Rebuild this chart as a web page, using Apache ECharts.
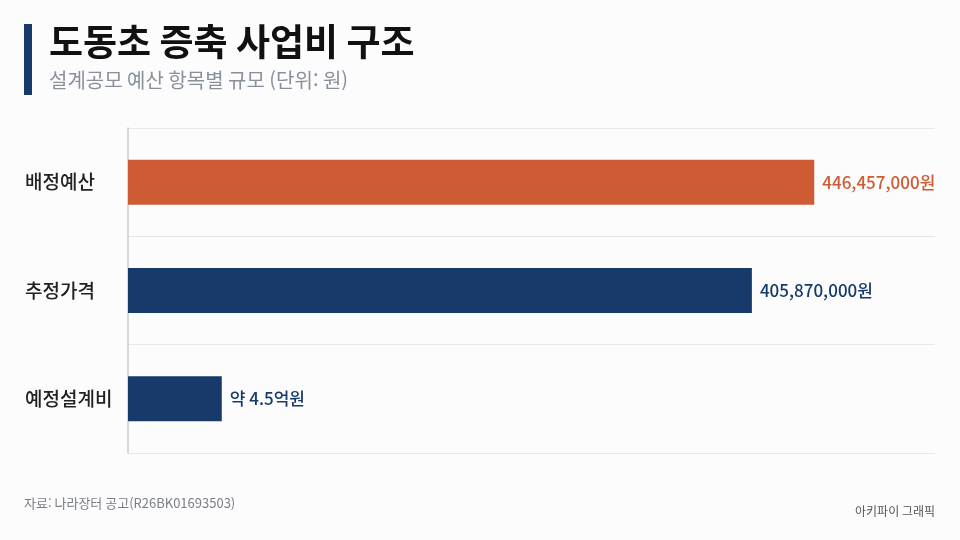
<!doctype html>
<html lang="ko">
<head>
<meta charset="UTF-8">
<title>도동초 증축 사업비 구조</title>
<style>
    *{margin:0;padding:0;}
    html,body{height:100%;background:#fcfcfd;}
    #main{width:960px;height:540px;}
</style>
</head>
<body>
<div id="main"></div>
<script src="https://cdn.jsdelivr.net/npm/echarts@6/dist/echarts.min.js"></script>
<script>
    // data
    var categories = ['배정예산', '추정가격', '예정설계비'];
    var values = [446457000, 405870000, 61000000];
    var valueLabels = ['446,457,000원', '405,870,000원', '약 4.5억원'];
    var barColors = ['#cf5b34', '#173a6b', '#173a6b'];
    var labelColors = ['#cf5b34', '#173a6b', '#173a6b'];

    var font = '"Noto Sans CJK KR", "Noto Sans", sans-serif';

    var myChart = echarts.init(document.getElementById('main'));

    myChart.setOption({
        backgroundColor: '#fcfcfd',
        textStyle: {fontFamily: font},
        title: [{
            text: '도동초 증축 사업비 구조',
            left: 44, top: 18,
            textStyle: {fontSize: 37, fontWeight: 'bold', color: '#111', fontFamily: font}
        }, {
            text: '설계공모 예산 항목별 규모 (단위: 원)',
            left: 44, top: 65,
            textStyle: {fontSize: 20, fontWeight: 'normal', color: '#8a909a', fontFamily: font}
        }, {
            text: '자료: 나라장터 공고(R26BK01693503)',
            left: 19, top: 492,
            textStyle: {fontSize: 13, fontWeight: 'normal', color: '#7a7e86', fontFamily: font}
        }, {
            text: '아키파이 그래픽',
            right: 20, top: 500,
            textStyle: {fontSize: 12, fontWeight: 'normal', color: '#555', fontFamily: font}
        }],
        graphic: [{
            type: 'rect',
            shape: {x: 24, y: 24, width: 8, height: 71},
            style: {fill: '#173a6b'}
        }],
        grid: {left: 128, right: 25, top: 128, bottom: 87},
        xAxis: {
            type: 'value',
            min: 0,
            max: 525000000,
            show: false
        },
        yAxis: {
            type: 'category',
            data: categories,
            inverse: true,
            axisLine: {show: true, lineStyle: {color: '#c9ccd2', width: 1.5}},
            axisTick: {show: false},
            splitLine: {show: true, lineStyle: {color: '#e6e8ec', width: 1}},
            axisLabel: {
                align: 'left',
                margin: 103,
                fontSize: 19,
                fontWeight: 500,
                color: '#222',
                fontFamily: font
            }
        },
        series: [{
            type: 'bar',
            barWidth: 45,
            silent: true,
            data: values.map(function (v, i) {
                return {
                    value: v,
                    itemStyle: {color: barColors[i]},
                    label: {color: labelColors[i]}
                };
            }),
            label: {
                show: true,
                position: 'right',
                distance: 8,
                fontSize: 17,
                fontWeight: 500,
                fontFamily: font,
                formatter: function (p) {
                    return valueLabels[p.dataIndex];
                }
            }
        }]
    });
</script>
</body>
</html>
